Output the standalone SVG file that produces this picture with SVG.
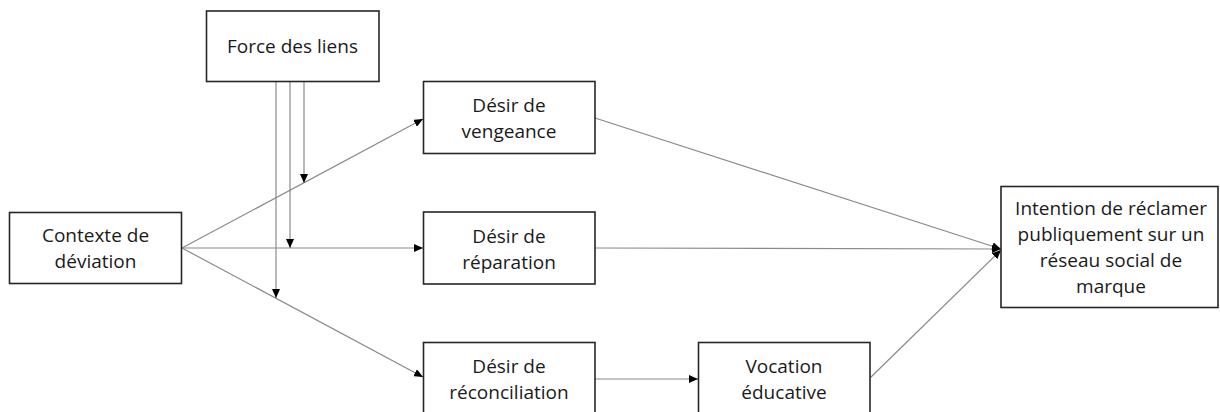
<svg xmlns="http://www.w3.org/2000/svg" width="1220" height="412" viewBox="0 0 1220 412">
<style>
.box{fill:#fff;stroke:#262626;stroke-width:1.6}
.t{font-family:"Open Sans","Liberation Sans",sans-serif;font-size:19px;fill:#1a1a1a;text-anchor:middle}
.c{fill:none;stroke:#8a8a8a;stroke-width:1.2}
</style>
<defs>
<marker id="ah" markerWidth="9" markerHeight="8" refX="9" refY="4" orient="auto" markerUnits="userSpaceOnUse">
<path d="M0,0 L9,4 L0,8 Z" fill="#000"/>
</marker>
</defs>
<rect width="1220" height="412" fill="#fff"/>
<g id="connectors">
<line class="c" x1="182" y1="248" x2="423" y2="119" marker-end="url(#ah)"/>
<line class="c" x1="182" y1="248" x2="423" y2="248" marker-end="url(#ah)"/>
<line class="c" x1="182" y1="248" x2="423" y2="377" marker-end="url(#ah)"/>
<line class="c" x1="276" y1="81" x2="276" y2="298" marker-end="url(#ah)"/>
<line class="c" x1="290" y1="81" x2="290" y2="248" marker-end="url(#ah)"/>
<line class="c" x1="304" y1="81" x2="304" y2="183" marker-end="url(#ah)"/>
<line class="c" x1="595" y1="118" x2="1001" y2="249" marker-end="url(#ah)"/>
<line class="c" x1="595" y1="248" x2="1001" y2="249" marker-end="url(#ah)"/>
<line class="c" x1="870" y1="378" x2="1001" y2="250" marker-end="url(#ah)"/>
<line class="c" x1="595" y1="379" x2="698" y2="379" marker-end="url(#ah)"/>
</g>
<g id="force">
<rect class="box" x="206.5" y="11" width="172.5" height="70.5"/>
<text class="t" x="292.5" y="53">Force des liens</text>
</g>
<g id="contexte">
<rect class="box" x="9.5" y="212.5" width="172" height="71"/>
<text class="t" x="95.5" y="242">Contexte de</text>
<text class="t" x="95.5" y="268">déviation</text>
</g>
<g id="vengeance">
<rect class="box" x="423.5" y="81.5" width="171.5" height="72"/>
<text class="t" x="509" y="112">Désir de</text>
<text class="t" x="509" y="138">vengeance</text>
</g>
<g id="reparation">
<rect class="box" x="423.5" y="212" width="171.5" height="72"/>
<text class="t" x="509" y="242.5">Désir de</text>
<text class="t" x="509" y="268.5">réparation</text>
</g>
<g id="reconciliation">
<rect class="box" x="423.5" y="342.5" width="171.5" height="72"/>
<text class="t" x="509" y="373">Désir de</text>
<text class="t" x="509" y="399">réconciliation</text>
</g>
<g id="vocation">
<rect class="box" x="698.5" y="342.5" width="171.5" height="72"/>
<text class="t" x="784" y="373">Vocation</text>
<text class="t" x="784" y="399">éducative</text>
</g>
<g id="intention">
<rect class="box" x="1001" y="186.5" width="217" height="121"/>
<text class="t" x="1111" y="215">Intention de réclamer</text>
<text class="t" x="1111" y="241">publiquement sur un</text>
<text class="t" x="1111" y="267">réseau social de</text>
<text class="t" x="1111" y="293">marque</text>
</g>
</svg>
